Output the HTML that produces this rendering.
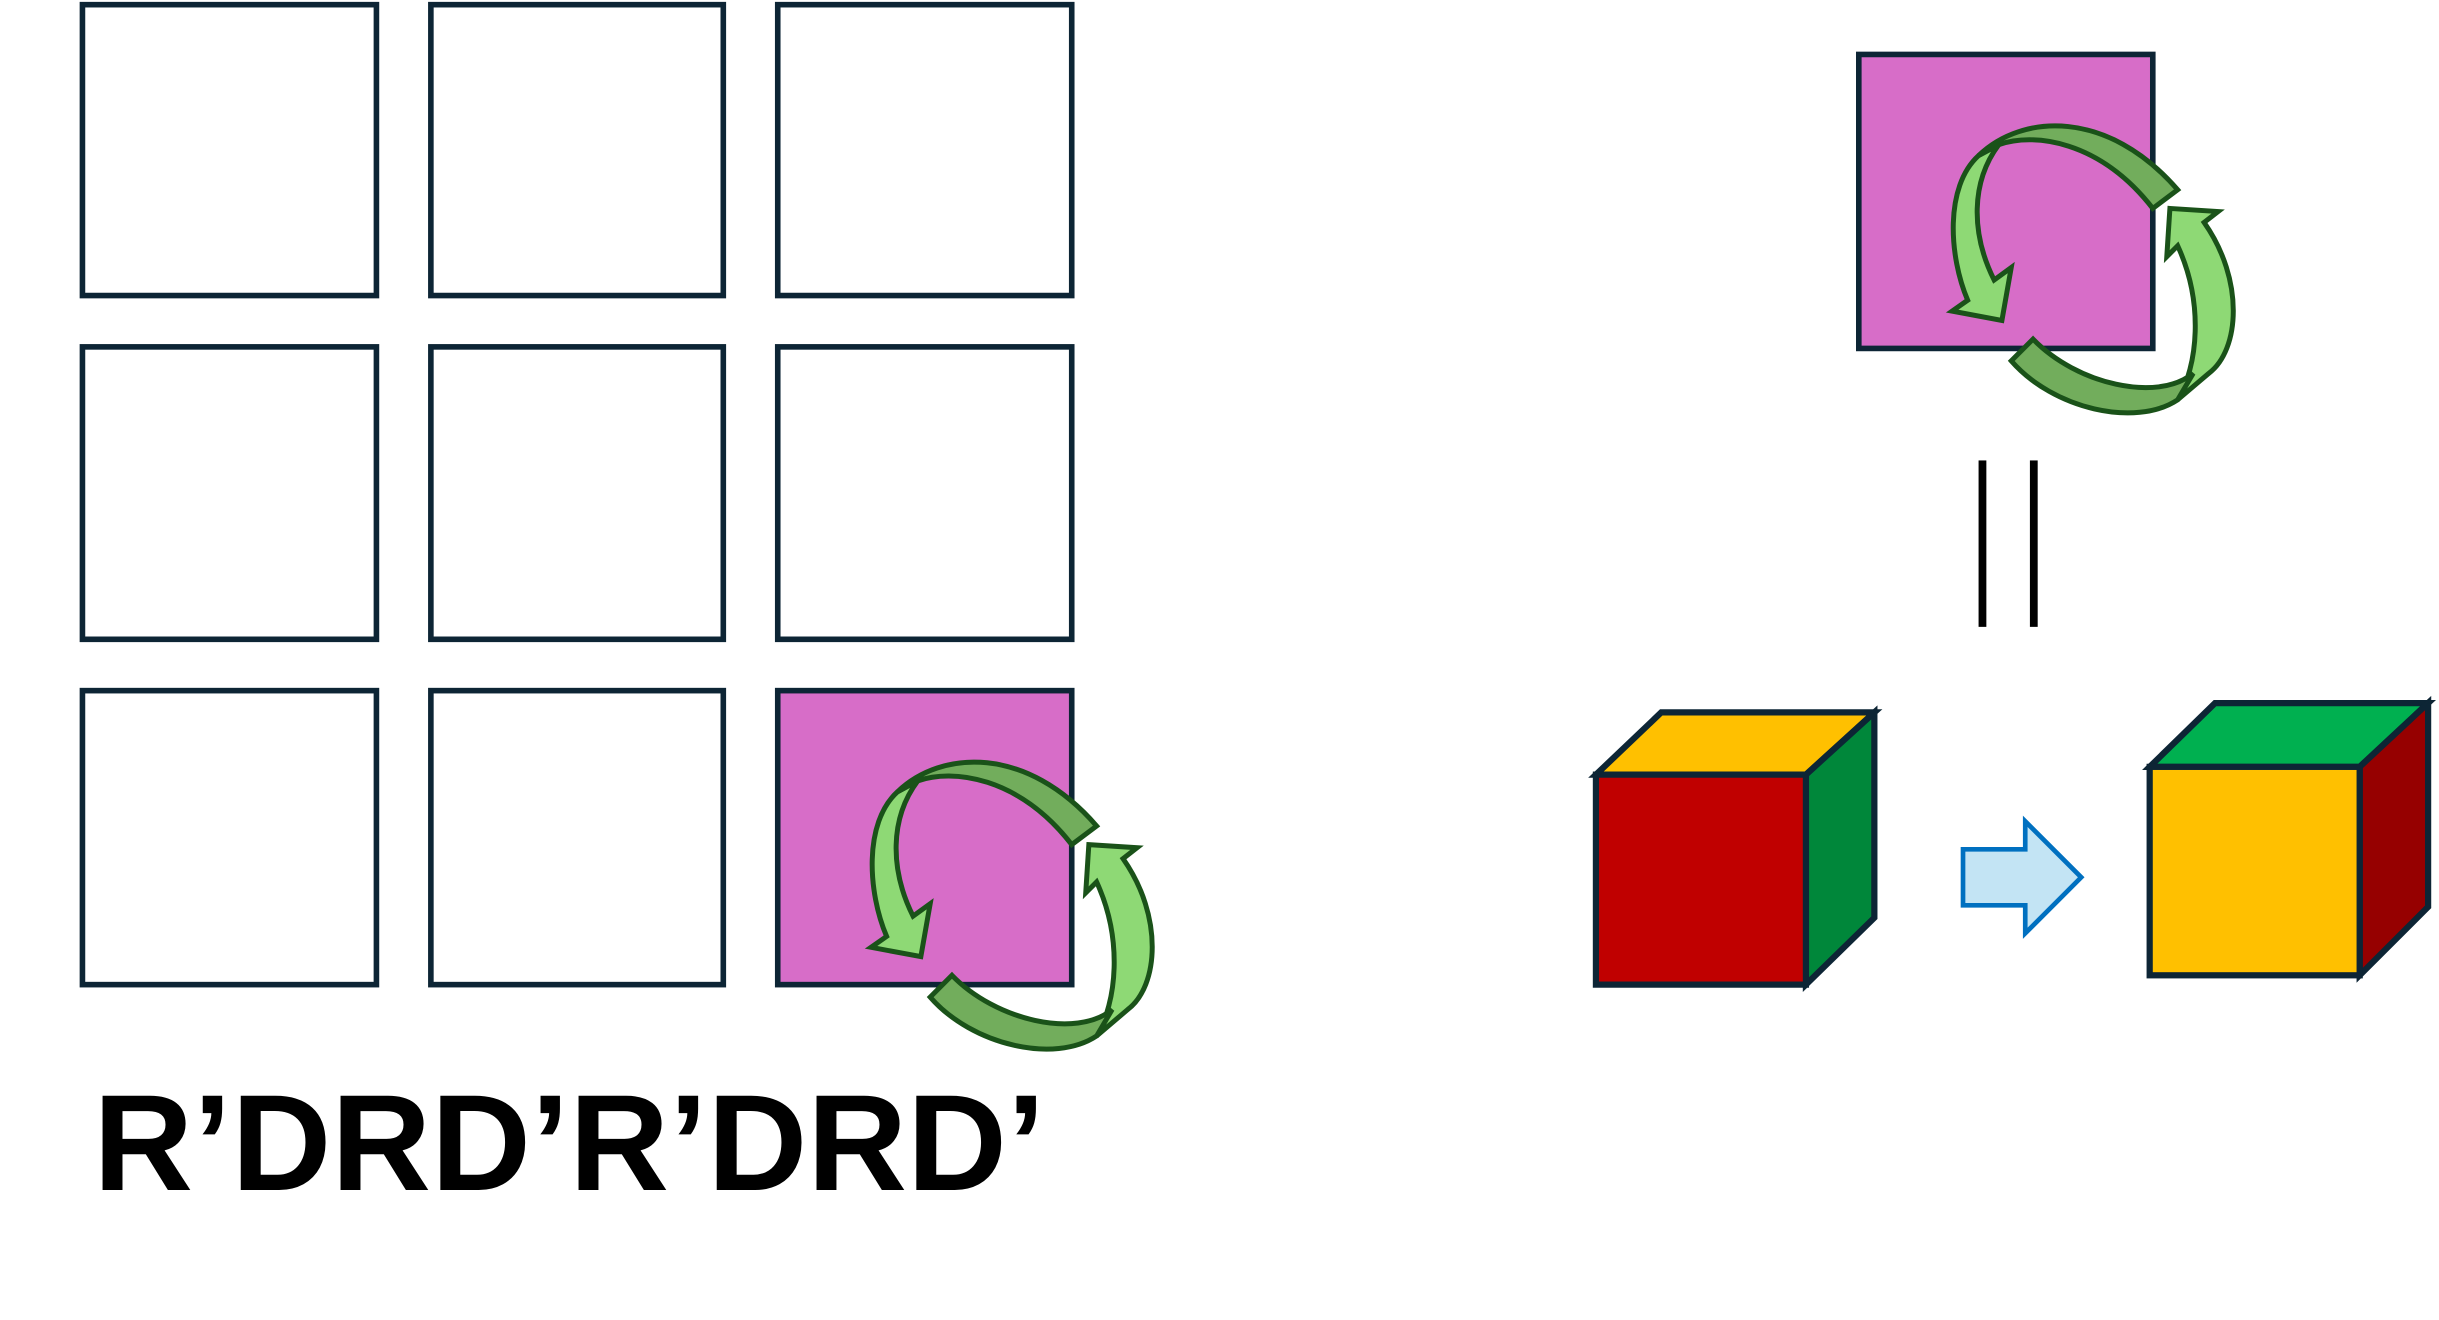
<!DOCTYPE html>
<html><head><meta charset="utf-8"><style>html,body{margin:0;padding:0;background:#fff}svg{display:block}</style></head>
<body>
<svg width="2439" height="1320" viewBox="0 0 1568 848.6" xmlns="http://www.w3.org/2000/svg">
<defs>
<g id="rot">
  <path d="M77,65 C55,85 58,130 70,158 L60,165 L92,171 L98,137 L87,145 C72,115 72,82 90,58 Z" fill="#8ed975" stroke="#1a5219" stroke-width="3.2" stroke-linejoin="miter"/>
  <path d="M77,65 C105,38 160,35 205,87 L189,99 C155,55 112,50 90,58 Z" fill="#72ad5c" stroke="#1a5219" stroke-width="3.2"/>
  <path d="M200,99 L231,101 L222,108 C248,145 245,190 225,205 L205,222 C218,200 222,160 205,123 L198,130 Z" fill="#8ed975" stroke="#1a5219" stroke-width="3.2"/>
  <path d="M98,197 L112,183 C140,212 192,224 215,205 L205,222 C178,240 125,228 98,197 Z" fill="#72ad5c" stroke="#1a5219" stroke-width="3.2"/>
</g>
</defs>
<g fill="#fff" stroke="#0d2535" stroke-width="3.6">
  <rect x="53" y="3" width="189" height="187"/>
  <rect x="277" y="3" width="188" height="187"/>
  <rect x="500" y="3" width="189" height="187"/>
  <rect x="53" y="223" width="189" height="188"/>
  <rect x="277" y="223" width="188" height="188"/>
  <rect x="500" y="223" width="189" height="188"/>
  <rect x="53" y="444" width="189" height="189"/>
  <rect x="277" y="444" width="188" height="189"/>
  <rect x="500" y="444" width="189" height="189" fill="#d76dc8"/>
</g>
<use href="#rot" x="500" y="444"/>
<text x="60" y="765" font-family="Liberation Sans, sans-serif" font-weight="bold" font-size="88" textLength="612" lengthAdjust="spacingAndGlyphs">R’DRD’R’DRD’</text>
<rect x="1195" y="35" width="189" height="189" fill="#d76dc8" stroke="#0d2535" stroke-width="3.6"/>
<use href="#rot" x="1195" y="35"/>
<g fill="#000">
  <rect x="1272" y="296" width="5" height="107"/>
  <rect x="1305" y="296" width="5" height="107"/>
</g>
<g stroke="#0d2535" stroke-width="4" stroke-linejoin="miter">
  <polygon points="1026,498 1068,458 1205,458 1161,498" fill="#ffc000"/>
  <polygon points="1161,498 1205,458 1205,590 1161,633" fill="#00873a"/>
  <rect x="1026" y="498" width="135" height="135" fill="#c00000"/>
</g>
<polygon points="1262,546 1302,546 1302,528 1338,564 1302,600 1302,582 1262,582" fill="#c3e4f4" stroke="#0070c0" stroke-width="3"/>
<g stroke="#0d2535" stroke-width="4">
  <polygon points="1382,493 1424,452 1561,452 1517,493" fill="#00b050"/>
  <polygon points="1517,493 1561,452 1561,583 1517,627" fill="#960000"/>
  <rect x="1382" y="493" width="135" height="134" fill="#ffc000"/>
</g>
</svg>
</body></html>
